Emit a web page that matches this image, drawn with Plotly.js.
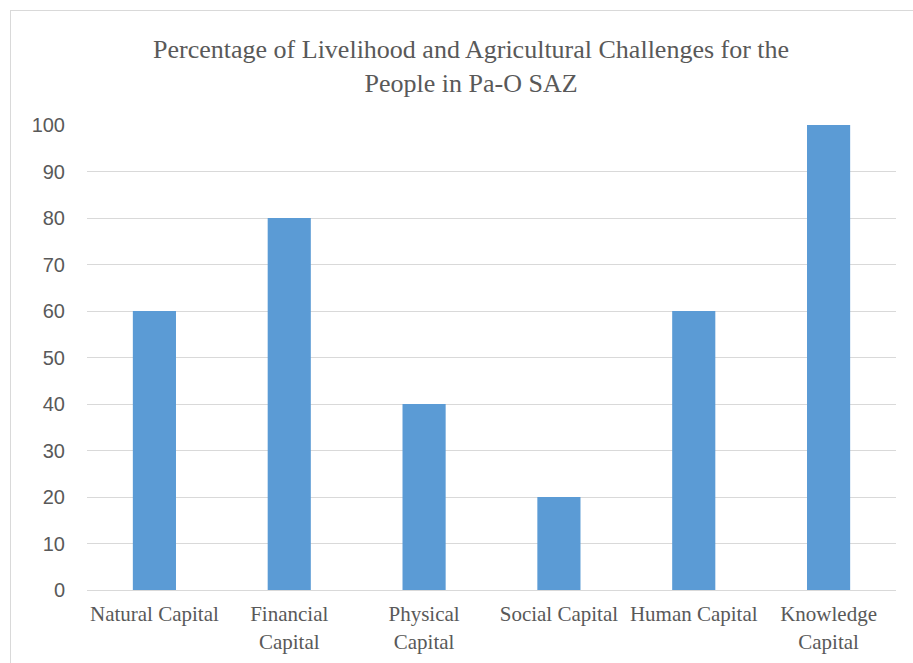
<!DOCTYPE html>
<html><head><meta charset="utf-8">
<script src="https://cdn.plot.ly/plotly-3.0.1.min.js"></script>
<style>html,body{margin:0;padding:0;background:#fff;}#chart{width:913px;height:663px;}
#frame{position:absolute;left:10px;top:10px;width:920px;height:680px;border:1px solid #d9d9d9;pointer-events:none;}</style>
</head><body><div id="chart"></div><div id="frame"></div>
<script>
const categories = ["Natural Capital","Financial<br>Capital","Physical<br>Capital","Social Capital","Human Capital","Knowledge<br>Capital"];
const values = [60, 80, 40, 20, 60, 100];
const yTicks = [0,10,20,30,40,50,60,70,80,90,100];

const serif = "'Liberation Serif', 'Times New Roman', serif";
const trace = {type:'bar', x:categories, y:values, marker:{color:'#5B9BD5'}, width:0.32, hoverinfo:'x+y'};
const layout = {
  width:913, height:663,
  margin:{l:87, r:17, t:125, b:73},
  paper_bgcolor:'#fff', plot_bgcolor:'#fff',
  title:{text:'Percentage of Livelihood and Agricultural Challenges for the<br>People in Pa-O SAZ',
    font:{family:serif, size:26, color:'#595959'},
    xref:'container', x:0.516, xanchor:'center', yref:'container', y:1-58/663, yanchor:'top'},
  xaxis:{type:'category', tickfont:{family:serif, size:21, color:'#595959'},
    showgrid:false, showline:true, linecolor:'#d9d9d9', linewidth:1, ticks:'', ticklabelstandoff:5, tickangle:0},
  yaxis:{range:[0,100], tickvals:yTicks, ticktext:yTicks.map(String),
    tickfont:{family:"'Liberation Sans', Arial, sans-serif", size:20, color:'#595959'},
    gridcolor:'#d9d9d9', gridwidth:1, zeroline:false, showline:false, ticks:'', ticklabelstandoff:21},
  showlegend:false
};
Plotly.newPlot('chart',[trace],layout,{displayModeBar:false});
</script></body></html>
